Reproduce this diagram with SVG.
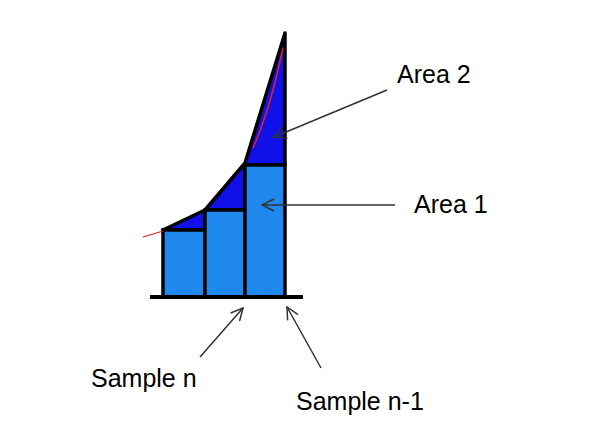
<svg xmlns="http://www.w3.org/2000/svg" width="600" height="423" viewBox="0 0 600 423">
<defs>
<style>
.lbl{font-family:"Liberation Sans",Arial,sans-serif;font-size:25px;fill:#000}
.bar{fill:#1e88ee;stroke:#000;stroke-width:3.5}
.cap{fill:#1010e8;stroke:#000;stroke-width:3.5;stroke-linejoin:round}
.ptr{fill:none;stroke:#333;stroke-width:1.5}
</style>
<marker id="chev" viewBox="0 0 14 14" refX="13" refY="7" markerWidth="14" markerHeight="14" markerUnits="userSpaceOnUse" orient="auto">
<path d="M1,1 L13,7 L1,13" fill="none" stroke="#333" stroke-width="1.5"/>
</marker>
</defs>
<rect width="600" height="423" fill="#fff"/>
<g id="area2">
<polygon class="cap" points="163,230 205,210 245,163 285,33 285,165 245,165 245,210 205,210 205,230"/>
</g>
<g id="bars">
<rect class="bar" x="163" y="230" width="42" height="67"/>
<rect class="bar" x="205" y="210" width="40" height="87"/>
<rect class="bar" x="245" y="165" width="40" height="132"/>
<line x1="150" y1="297" x2="303" y2="297" stroke="#000" stroke-width="4"/>
</g>
<g id="curve">
<path d="M143,237 L163,231" stroke="#e02020" stroke-width="1.2" fill="none"/>
<path d="M253,148 Q270,110 283,48" stroke="#e02020" stroke-width="1.5" fill="none"/>
</g>
<g id="connectors">
<line class="ptr" x1="387" y1="90" x2="274" y2="137" marker-end="url(#chev)"/>
<line class="ptr" x1="395" y1="205" x2="262" y2="205" marker-end="url(#chev)"/>
<line class="ptr" x1="200" y1="357" x2="243" y2="308" marker-end="url(#chev)"/>
<line class="ptr" x1="321" y1="368" x2="287" y2="307" marker-end="url(#chev)"/>
</g>
<g id="labels">
<text class="lbl" x="397" y="83">Area 2</text>
<text class="lbl" x="414" y="213">Area 1</text>
<text class="lbl" x="91" y="387">Sample n</text>
<text class="lbl" x="296" y="410">Sample n-1</text>
</g>
</svg>
